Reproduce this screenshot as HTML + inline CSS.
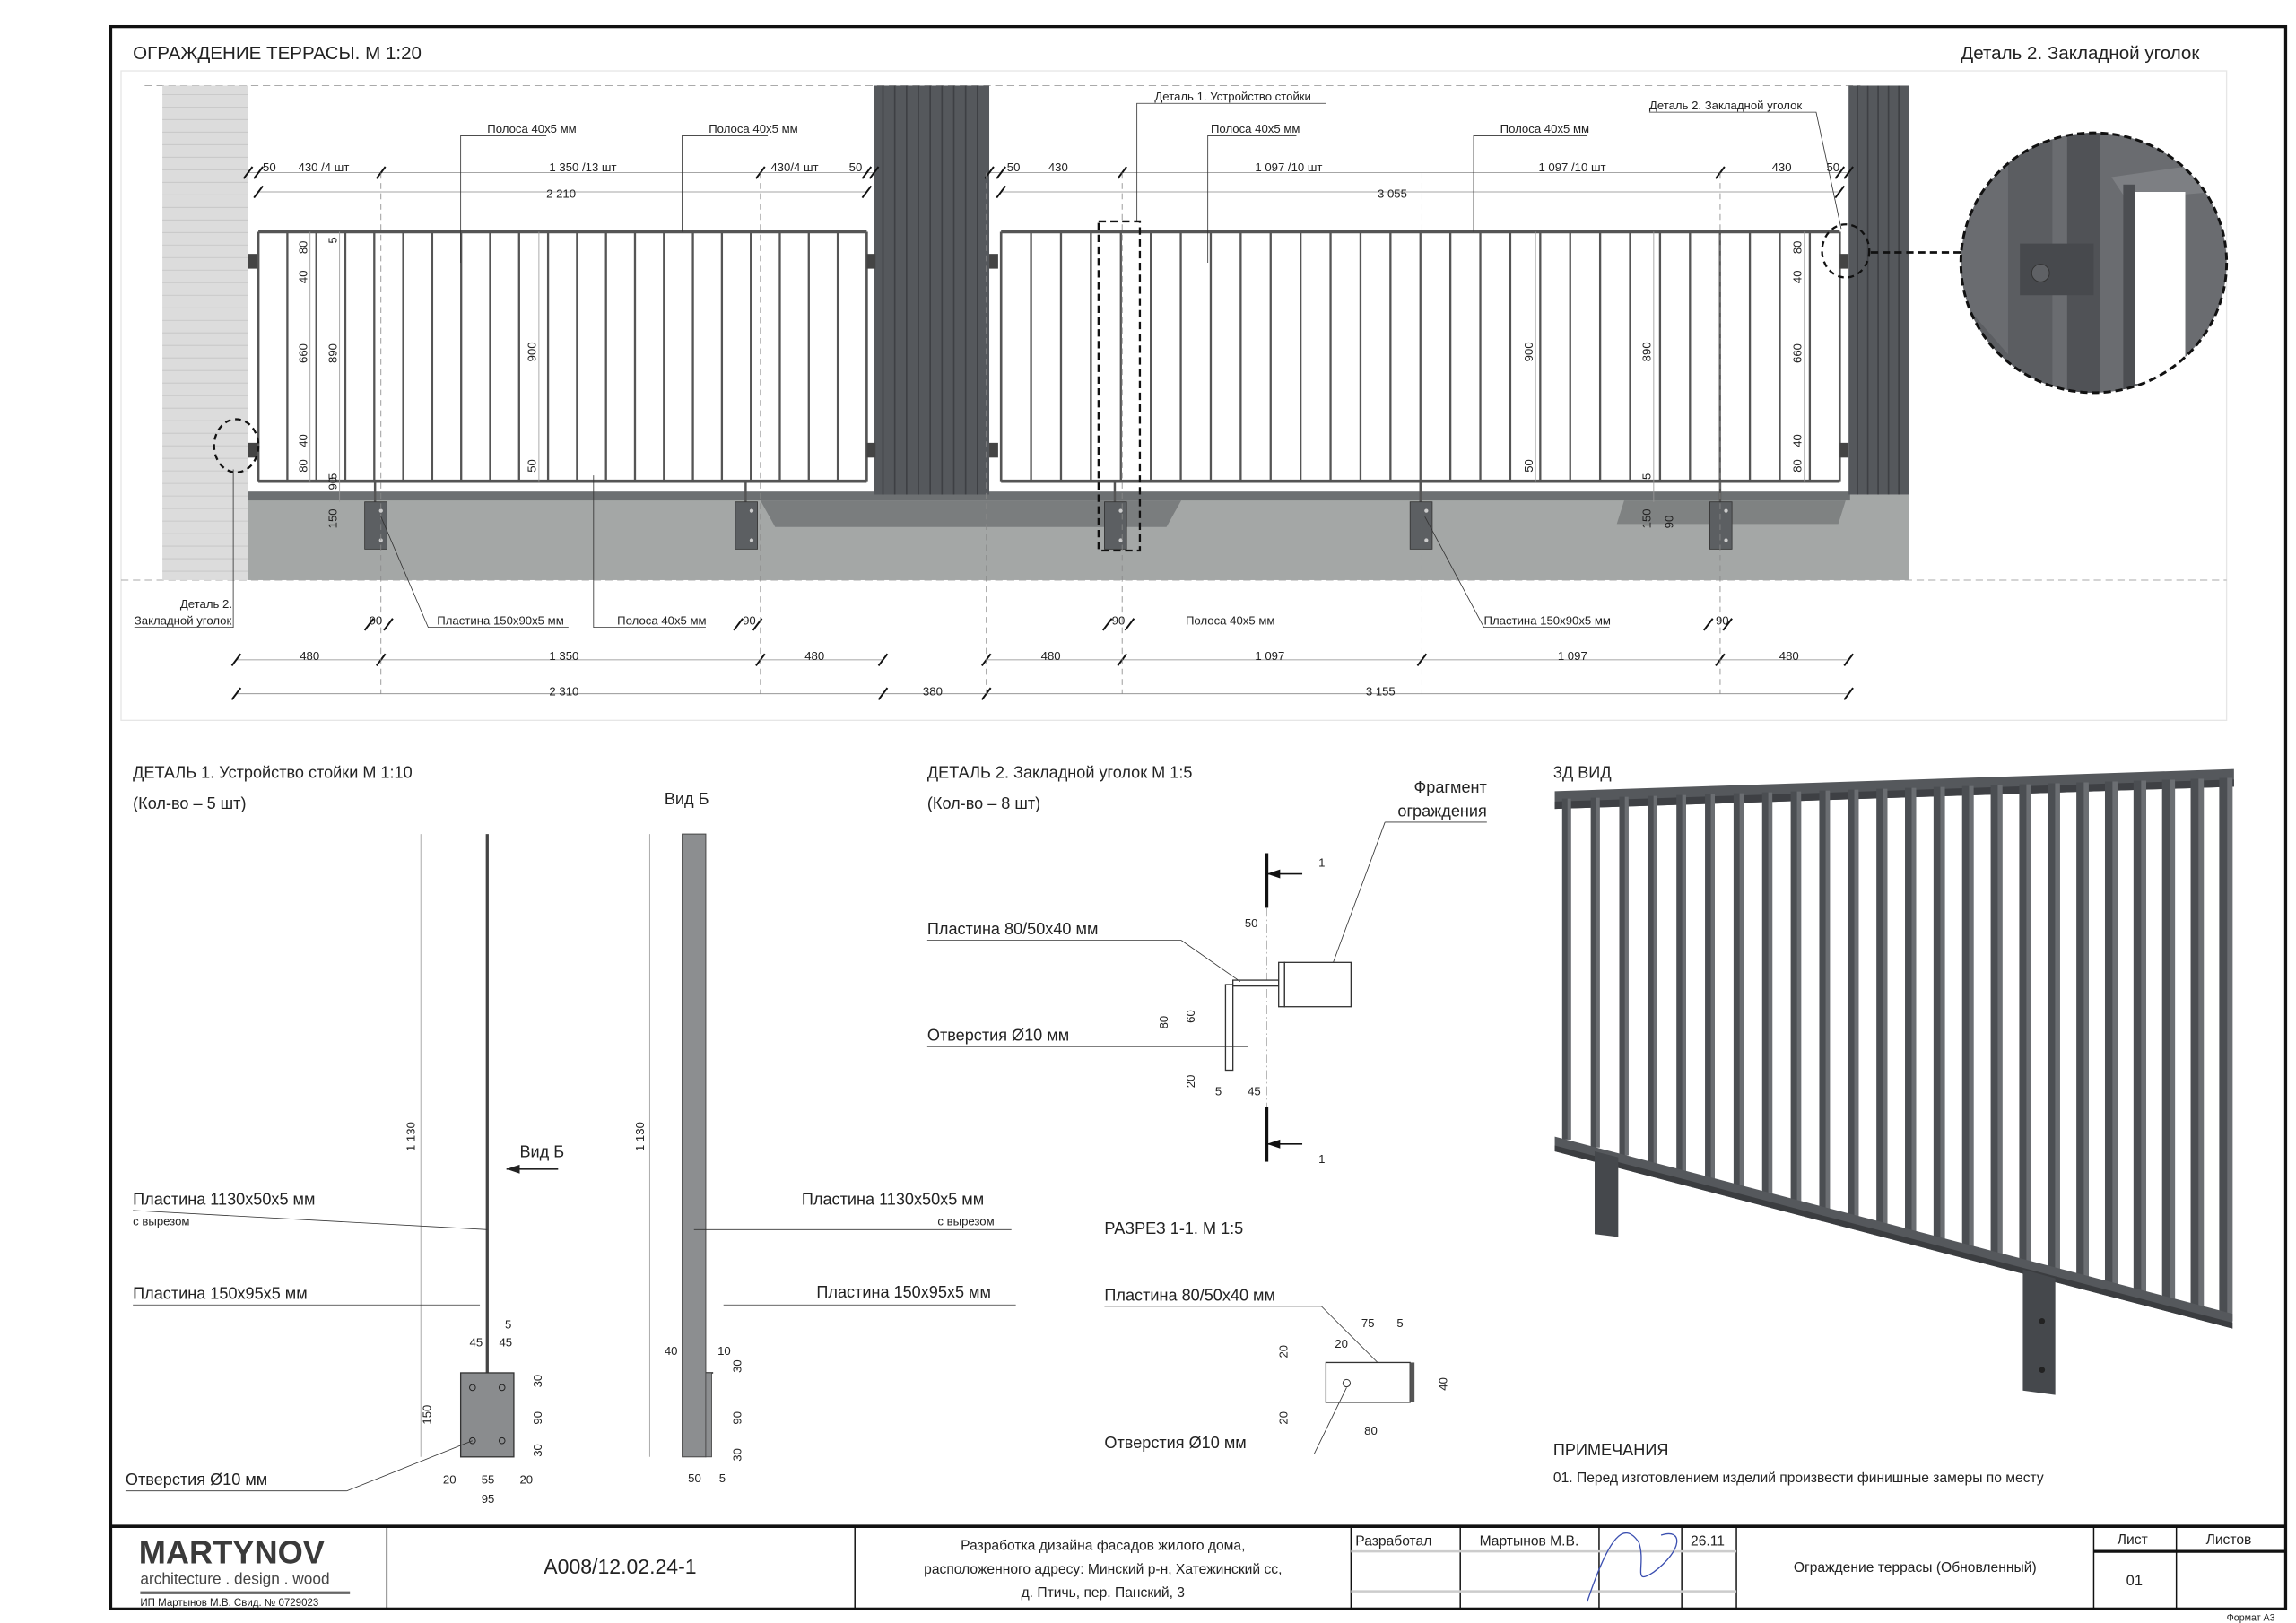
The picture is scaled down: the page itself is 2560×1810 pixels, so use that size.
<!DOCTYPE html>
<html><head><meta charset="utf-8">
<style>
html,body{margin:0;padding:0;background:#fff;}
svg{display:block;}
text{font-family:"Liberation Sans Narrow","Liberation Sans",sans-serif;fill:#222;}
.t{font-size:8px;}
.m{font-size:11px;}
.h{font-size:12.5px;}
</style></head>
<body>
<svg id="s" width="2560" height="1810" viewBox="0 0 1555 1099.5" preserveAspectRatio="none" xmlns="http://www.w3.org/2000/svg">
<rect width="1555" height="1100" fill="#fff"/>
<!-- frame -->
<rect x="75" y="18" width="1473" height="1072" fill="none" stroke="#111" stroke-width="2"/>
<rect x="82" y="48" width="1426" height="440" fill="none" stroke="#e6e6e6" stroke-width="0.8"/>
<text x="90" y="40" class="h">ОГРАЖДЕНИЕ ТЕРРАСЫ. М 1:20</text>
<text x="1328" y="40" class="h">Деталь 2. Закладной уголок</text>
<line x1="98" y1="58" x2="1260" y2="58" stroke="#aaa" stroke-width="0.6" stroke-dasharray="5,3"/>
<line x1="82" y1="393" x2="1508" y2="393" stroke="#aaa" stroke-width="0.6" stroke-dasharray="5,3"/>
<!-- left wall -->
<rect x="110" y="58" width="58" height="335" fill="#dcdcdc"/>
<g id="wallLines"></g>
<!-- slab -->
<rect x="168" y="335" width="1125" height="58" fill="#a4a7a6"/>
<rect x="168" y="333" width="1085" height="6" fill="#6d7072"/>
<polygon points="515,339 800,339 790,357 525,357" fill="#7a7d7e"/>
<polygon points="1100,339 1250,339 1245,355 1095,355" fill="#7f8282"/>
<!-- columns -->
<rect x="592" y="58" width="78" height="277" fill="#55585c"/>
<g id="colStripes"></g>
<rect x="1252" y="58" width="41" height="277" fill="#55585c"/>
<g id="col2Stripes"></g>
<!-- fences -->
<g id="fences" stroke="#555" fill="none"></g>
<!-- posts plates -->
<g id="posts"></g>
<!-- detail circles -->
<ellipse cx="160" cy="302" rx="15" ry="18" fill="none" stroke="#111" stroke-width="1.4" stroke-dasharray="4,3"/>
<ellipse cx="1250" cy="170" rx="16" ry="18" fill="none" stroke="#111" stroke-width="1.4" stroke-dasharray="4,3"/>
<line x1="1267" y1="171" x2="1330" y2="171" stroke="#111" stroke-width="1.6" stroke-dasharray="5,3"/>
<clipPath id="cc"><ellipse cx="1418" cy="178" rx="90" ry="88"/></clipPath>
<g clip-path="url(#cc)">
<rect x="1325" y="88" width="190" height="180" fill="#6a6c70"/>
<rect x="1360" y="88" width="30" height="180" fill="#5b5d61"/>
<rect x="1400" y="88" width="22" height="180" fill="#505256"/>
<polygon points="1430,120 1500,110 1500,130 1440,135" fill="#7d7f83"/>
<rect x="1445" y="130" width="35" height="130" fill="#fff"/>
<rect x="1438" y="125" width="8" height="140" fill="#4c4e52"/>
<rect x="1368" y="165" width="50" height="35" fill="#47494d"/>
<circle cx="1382" cy="185" r="6" fill="#5f6165" stroke="#333" stroke-width="0.6"/>
<polygon points="1325,200 1360,240 1360,268 1325,268" fill="#5c5e62"/>
</g>
<ellipse cx="1418" cy="178" rx="90" ry="88" fill="none" stroke="#111" stroke-width="1.8" stroke-dasharray="5,3"/>
<!-- dashed detail box -->
<rect x="744" y="150" width="28" height="223" fill="none" stroke="#111" stroke-width="1.4" stroke-dasharray="5,3"/>
<!-- dimension lines -->
<g id="dims" stroke="#888" stroke-width="0.5"></g>
<g class="t">
<text x="178" y="116">50</text><text x="202" y="116">430 /4 шт</text><text x="372" y="116">1 350 /13 шт</text><text x="522" y="116">430/4 шт</text><text x="575" y="116">50</text>
<text x="370" y="134">2 210</text>
<text x="682" y="116">50</text><text x="710" y="116">430</text><text x="850" y="116">1 097 /10 шт</text><text x="1042" y="116">1 097 /10 шт</text><text x="1200" y="116">430</text><text x="1237" y="116">50</text>
<text x="933" y="134">3 055</text>
<text x="330" y="90">Полоса 40х5 мм</text><text x="480" y="90">Полоса 40х5 мм</text>
<text x="782" y="68">Деталь 1. Устройство стойки</text><text x="820" y="90">Полоса 40х5 мм</text><text x="1016" y="90">Полоса 40х5 мм</text>
<text x="1117" y="74">Деталь 2. Закладной уголок</text>
<text x="122" y="412">Деталь 2.</text><text x="91" y="423">Закладной уголок</text>
<text x="250" y="423">90</text><text x="296" y="423">Пластина 150х90х5 мм</text><text x="418" y="423">Полоса 40х5 мм</text><text x="503" y="423">90</text>
<text x="753" y="423">90</text><text x="803" y="423">Полоса 40х5 мм</text><text x="1005" y="423">Пластина 150х90х5 мм</text><text x="1162" y="423">90</text>
<text x="203" y="447">480</text><text x="372" y="447">1 350</text><text x="545" y="447">480</text><text x="705" y="447">480</text><text x="850" y="447">1 097</text><text x="1055" y="447">1 097</text><text x="1205" y="447">480</text>
<text x="372" y="471">2 310</text><text x="625" y="471">380</text><text x="925" y="471">3 155</text>
</g>
<g id="vtexts" class="t"></g>
<!-- ============ DETAIL 1 ============ -->
<text x="90" y="527" class="m">ДЕТАЛЬ 1. Устройство стойки М 1:10</text>
<text x="90" y="548" class="m">(Кол-во – 5 шт)</text>
<line x1="330" y1="565" x2="330" y2="930" stroke="#444" stroke-width="2"/>
<rect x="312" y="930" width="36" height="57" fill="#8a8c8e" stroke="#333" stroke-width="0.8"/>
<circle cx="320" cy="940" r="2" fill="none" stroke="#222" stroke-width="0.6"/><circle cx="340" cy="940" r="2" fill="none" stroke="#222" stroke-width="0.6"/>
<circle cx="320" cy="976" r="2" fill="none" stroke="#222" stroke-width="0.6"/><circle cx="340" cy="976" r="2" fill="none" stroke="#222" stroke-width="0.6"/>
<line x1="285" y1="565" x2="285" y2="987" stroke="#999" stroke-width="0.5"/>
<text transform="translate(281,780) rotate(-90)" class="t">1 130</text>
<text x="352" y="784" class="m">Вид Б</text>
<line x1="343" y1="792" x2="378" y2="792" stroke="#222" stroke-width="1"/><polygon points="343,792 352,789 352,795" fill="#222"/>
<text x="90" y="816" class="m">Пластина 1130х50х5 мм</text><line x1="90" y1="820" x2="330" y2="833" stroke="#333" stroke-width="0.5"/>
<text x="90" y="830" class="t">с вырезом</text>
<text x="90" y="880" class="m">Пластина 150х95х5 мм</text><line x1="90" y1="884" x2="325" y2="884" stroke="#333" stroke-width="0.5"/>
<text x="85" y="1006" class="m">Отверстия Ø10 мм</text><line x1="85" y1="1010" x2="235" y2="1010" stroke="#333" stroke-width="0.5"/><line x1="235" y1="1010" x2="320" y2="976" stroke="#333" stroke-width="0.5"/>
<g class="t"><text x="318" y="912">45</text><text x="338" y="912">45</text><text x="342" y="900">5</text><text x="300" y="1005">20</text><text x="326" y="1005">55</text><text x="352" y="1005">20</text><text x="326" y="1018">95</text>
<text transform="translate(292,965) rotate(-90)">150</text><text transform="translate(367,940) rotate(-90)">30</text><text transform="translate(367,965) rotate(-90)">90</text><text transform="translate(367,987) rotate(-90)">30</text></g>
<!-- Vid B -->
<text x="450" y="545" class="m">Вид Б</text>
<rect x="462" y="565" width="16" height="422" fill="#8c8e90" stroke="#444" stroke-width="0.6"/>
<line x1="478" y1="930" x2="483" y2="930" stroke="#333"/><rect x="478" y="930" width="4" height="57" fill="#8c8e90" stroke="#444" stroke-width="0.5"/>
<line x1="440" y1="565" x2="440" y2="987" stroke="#999" stroke-width="0.5"/>
<text transform="translate(436,780) rotate(-90)" class="t">1 130</text>
<text x="543" y="816" class="m">Пластина 1130х50х5 мм</text><line x1="470" y1="833" x2="685" y2="833" stroke="#333" stroke-width="0.5"/>
<text x="635" y="830" class="t">с вырезом</text>
<text x="553" y="879" class="m">Пластина 150х95х5 мм</text><line x1="490" y1="884" x2="688" y2="884" stroke="#333" stroke-width="0.5"/>
<g class="t"><text x="450" y="918">40</text><text x="486" y="918">10</text><text x="466" y="1004">50</text><text x="487" y="1004">5</text>
<text transform="translate(502,930) rotate(-90)">30</text><text transform="translate(502,965) rotate(-90)">90</text><text transform="translate(502,990) rotate(-90)">30</text></g>
<!-- ============ DETAIL 2 ============ -->
<text x="628" y="527" class="m">ДЕТАЛЬ 2. Закладной уголок М 1:5</text>
<text x="628" y="548" class="m">(Кол-во – 8 шт)</text>
<text x="1007" y="537" class="m" text-anchor="end">Фрагмент</text>
<text x="1007" y="553" class="m" text-anchor="end">ограждения</text>
<line x1="938" y1="557" x2="1007" y2="557" stroke="#333" stroke-width="0.5"/><line x1="938" y1="557" x2="900" y2="660" stroke="#333" stroke-width="0.5"/>
<line x1="858" y1="578" x2="858" y2="615" stroke="#111" stroke-width="2"/><line x1="858" y1="750" x2="858" y2="787" stroke="#111" stroke-width="2"/>
<line x1="858" y1="592" x2="882" y2="592" stroke="#111"/><polygon points="858,592 867,589 867,595" fill="#111"/><text x="893" y="587" class="t">1</text>
<line x1="858" y1="775" x2="882" y2="775" stroke="#111"/><polygon points="858,775 867,772 867,778" fill="#111"/><text x="893" y="788" class="t">1</text>
<line x1="858" y1="615" x2="858" y2="750" stroke="#aaa" stroke-width="0.5" stroke-dasharray="6,2,1,2"/>
<rect x="830" y="667" width="5" height="58" fill="#fff" stroke="#333" stroke-width="0.8"/>
<rect x="835" y="664" width="31" height="4" fill="#fff" stroke="#333" stroke-width="0.8"/>
<rect x="866" y="652" width="4" height="30" fill="#fff" stroke="#333" stroke-width="0.8"/>
<rect x="870" y="652" width="45" height="30" fill="#fff" stroke="#333" stroke-width="0.8"/>
<text x="628" y="633" class="m">Пластина 80/50х40 мм</text><line x1="628" y1="637" x2="800" y2="637" stroke="#333" stroke-width="0.5"/><line x1="800" y1="637" x2="840" y2="665" stroke="#333" stroke-width="0.5"/>
<text x="628" y="705" class="m">Отверстия Ø10 мм</text><line x1="628" y1="709" x2="845" y2="709" stroke="#333" stroke-width="0.5"/>
<g class="t"><text x="843" y="628">50</text><text x="823" y="742">5</text><text x="845" y="742">45</text>
<text transform="translate(791,697) rotate(-90)">80</text><text transform="translate(809,693) rotate(-90)">60</text><text transform="translate(809,737) rotate(-90)">20</text></g>
<text x="748" y="836" class="m">РАЗРЕЗ 1-1. М 1:5</text>
<text x="748" y="881" class="m">Пластина 80/50х40 мм</text><line x1="748" y1="885" x2="895" y2="885" stroke="#333" stroke-width="0.5"/><line x1="895" y1="885" x2="935" y2="925" stroke="#333" stroke-width="0.5"/>
<rect x="898" y="923" width="57" height="27" fill="#fff" stroke="#333" stroke-width="0.8"/>
<rect x="955" y="923" width="3" height="27" fill="#555"/>
<circle cx="912" cy="937" r="2.5" fill="none" stroke="#333" stroke-width="0.6"/>
<text x="748" y="981" class="m">Отверстия Ø10 мм</text><line x1="748" y1="985" x2="890" y2="985" stroke="#333" stroke-width="0.5"/><line x1="890" y1="985" x2="912" y2="940" stroke="#333" stroke-width="0.5"/>
<g class="t"><text x="922" y="899">75</text><text x="946" y="899">5</text><text x="904" y="913">20</text><text x="924" y="972">80</text>
<text transform="translate(872,920) rotate(-90)">20</text><text transform="translate(872,965) rotate(-90)">20</text><text transform="translate(980,942) rotate(-90)">40</text></g>
<!-- ============ 3D ============ -->
<text x="1052" y="527" class="m">3Д ВИД</text>
<g id="td"></g>
<text x="1052" y="986" class="m">ПРИМЕЧАНИЯ</text>
<text x="1052" y="1004" class="t" style="font-size:9.5px">01. Перед изготовлением изделий произвести финишные замеры по месту</text>
<!-- ============ TITLE BLOCK ============ -->
<line x1="75" y1="1034" x2="1548" y2="1034" stroke="#111" stroke-width="2.2"/>
<g stroke="#111" stroke-width="0.9">
<line x1="262" y1="1034" x2="262" y2="1090"/><line x1="579" y1="1034" x2="579" y2="1090"/><line x1="915" y1="1034" x2="915" y2="1090"/>
<line x1="989" y1="1034" x2="989" y2="1090"/><line x1="1083" y1="1034" x2="1083" y2="1090"/><line x1="1139" y1="1034" x2="1139" y2="1090"/>
<line x1="1176" y1="1034" x2="1176" y2="1090"/><line x1="1418" y1="1034" x2="1418" y2="1090"/><line x1="1474" y1="1034" x2="1474" y2="1090"/>
</g>
<line x1="915" y1="1051" x2="1176" y2="1051" stroke="#ccc" stroke-width="1.5"/><line x1="915" y1="1078" x2="1176" y2="1078" stroke="#ccc" stroke-width="1.5"/>
<line x1="1418" y1="1051" x2="1548" y2="1051" stroke="#111" stroke-width="2"/>
<text x="94" y="1059" style="font-size:22px;font-weight:bold;fill:#3a3a3a">MARTYNOV</text>
<text x="95" y="1073" style="font-size:10.5px;fill:#444">architecture . design . wood</text>
<line x1="95" y1="1079" x2="237" y2="1079" stroke="#666" stroke-width="2"/>
<text x="95" y="1088" style="font-size:7px;">ИП Мартынов М.В. Свид. № 0729023</text>
<text x="420" y="1066" text-anchor="middle" style="font-size:14px">А008/12.02.24-1</text>
<text x="747" y="1050" text-anchor="middle" style="font-size:9.5px">Разработка дизайна фасадов жилого дома,</text>
<text x="747" y="1066" text-anchor="middle" style="font-size:9.5px">расположенного адресу: Минский р-н, Хатежинский сс,</text>
<text x="747" y="1082" text-anchor="middle" style="font-size:9.5px">д. Птичь, пер. Панский, 3</text>
<text x="918" y="1047" style="font-size:9.5px">Разработал</text>
<text x="1002" y="1047" style="font-size:9.5px">Мартынов М.В.</text>
<path d="M1075,1085 C1090,1040 1100,1030 1110,1045 C1115,1060 1105,1075 1120,1065 C1140,1050 1140,1035 1125,1040" fill="none" stroke="#3b4fb0" stroke-width="0.8"/>
<text x="1145" y="1047" style="font-size:9.5px">26.11</text>
<text x="1297" y="1065" text-anchor="middle" style="font-size:9.5px">Ограждение террасы (Обновленный)</text>
<text x="1434" y="1046" style="font-size:9.5px">Лист</text><text x="1494" y="1046" style="font-size:9.5px">Листов</text>
<text x="1440" y="1074" style="font-size:10px">01</text>
<text x="1508" y="1098" style="font-size:6.5px">Формат А3</text>
</svg>
<script>
const NS="http://www.w3.org/2000/svg";
function el(p,t,a){const e=document.createElementNS(NS,t);for(const k in a)e.setAttribute(k,a[k]);document.getElementById(p).appendChild(e);return e;}
for(let y=64;y<393;y+=8.5)el("wallLines","line",{x1:110,x2:168,y1:y,y2:y,stroke:"#c4c4c4","stroke-width":0.5});
for(let x=598;x<668;x+=8)el("colStripes","line",{x1:x,x2:x,y1:58,y2:335,stroke:"#3e4044","stroke-width":1});
for(let x=1258;x<1292;x+=7)el("col2Stripes","line",{x1:x,x2:x,y1:58,y2:335,stroke:"#3e4044","stroke-width":1});
function fence(x1,x2){
 el("fences","rect",{x:x1,y:157,width:x2-x1,height:170,fill:"#fff",stroke:"none"});
 el("fences","line",{x1:x1,x2:x2,y1:157,y2:157,"stroke-width":2.2});
 el("fences","line",{x1:x1,x2:x2,y1:326,y2:326,"stroke-width":2.2});
 el("fences","line",{x1:x1,x2:x1,y1:157,y2:326,"stroke-width":1.6});
 el("fences","line",{x1:x2,x2:x2,y1:157,y2:326,"stroke-width":1.6});
 const n=Math.round((x2-x1)/20);const st=(x2-x1)/n;
 for(let i=1;i<n;i++){const x=x1+i*st;el("fences","line",{x1:x,x2:x,y1:157,y2:326,"stroke-width":1.4});}
}
fence(175,587);fence(678,1246);
[[168,177],[168,305],[587,177],[587,305],[670,177],[670,305],[1246,177],[1246,305]].forEach(p=>el("posts","rect",{x:p[0],y:p[1]-5,width:6,height:10,fill:"#444"}));
[247,498,748,955,1158].forEach(x=>{el("posts","line",{x1:x+7,x2:x+7,y1:326,y2:340,stroke:"#555","stroke-width":1.5});
 el("posts","rect",{x:x,y:340,width:15,height:32,fill:"#5c5f62",stroke:"#333","stroke-width":0.5});
 el("posts","circle",{cx:x+11,cy:346,r:1.3,fill:"#ccc"});el("posts","circle",{cx:x+11,cy:366,r:1.3,fill:"#ccc"});});
// dims
const D=[[168,117,592],[175,130,587],[670,117,1252],[678,130,1246],[160,447,598],[668,447,1252],[160,470,598],[598,470,668],[668,470,1252]];
D.forEach(d=>{el("dims","line",{x1:d[0],x2:d[2],y1:d[1],y2:d[1]});});
const ticks=[[168,117],[175,117],[258,117],[515,117],[587,117],[592,117],[175,130],[587,130],[670,117],[678,117],[760,117],[1165,117],[1246,117],[1252,117],[678,130],[1246,130],
[160,447],[258,447],[515,447],[598,447],[668,447],[760,447],[963,447],[1165,447],[1252,447],[160,470],[598,470],[668,470],[1252,470],[250,423],[263,423],[500,423],[513,423],[750,423],[765,423],[1157,423],[1170,423]];
ticks.forEach(t=>el("dims","line",{x1:t[0]-3,x2:t[0]+3,y1:t[1]+4,y2:t[1]-4,stroke:"#111","stroke-width":1.2}));
[258,515,598,668,760,963,1165].forEach(x=>el("dims","line",{x1:x,x2:x,y1:117,y2:470,"stroke-dasharray":"4,3"}));
// vertical labels
function vt(x,y,s){const e=el("vtexts","text",{transform:`translate(${x},${y}) rotate(-90)`});e.textContent=s;}
vt(208,172,"80");vt(208,192,"40");vt(208,246,"660");vt(208,303,"40");vt(208,320,"80");vt(228,246,"890");vt(228,165,"5");vt(228,325,"5");vt(228,358,"150");vt(228,332,"90");vt(363,245,"900");vt(363,320,"50");
vt(1038,245,"900");vt(1118,245,"890");vt(1118,325,"5");vt(1118,358,"150");vt(1133,358,"90");vt(1220,172,"80");vt(1220,192,"40");vt(1220,246,"660");vt(1220,303,"40");vt(1220,320,"80");vt(1038,320,"50");
[[210,157,210,326],[230,157,230,340],[365,157,365,326],[1040,157,1040,326],[1120,157,1120,340],[1222,157,1222,326]].forEach(l=>el("vtexts","line",{x1:l[0],x2:l[2],y1:l[1],y2:l[3],stroke:"#999","stroke-width":0.5}));
// leaders
[[312,178,312,92,370,92],[462,157,462,92,520,92],[818,178,818,92,878,92],[998,157,998,92,1075,92],[770,150,770,70,898,70],[402,322,402,425,478,425]].forEach(l=>el("vtexts","polyline",{points:`${l[0]},${l[1]} ${l[2]},${l[3]} ${l[4]},${l[5]}`,fill:"none",stroke:"#333","stroke-width":0.5}));
el("vtexts","polyline",{points:"1247,155 1230,76 1117,76",fill:"none",stroke:"#333","stroke-width":0.5});
el("vtexts","polyline",{points:"258,350 290,425 385,425",fill:"none",stroke:"#333","stroke-width":0.5});
el("vtexts","polyline",{points:"965,350 1005,425 1090,425",fill:"none",stroke:"#333","stroke-width":0.5});
el("vtexts","polyline",{points:"158,318 158,425 91,425",fill:"none",stroke:"#333","stroke-width":0.5});
// 3D fence
const topL=[1055,541],topR=[1512,527],botL=[1058,772],botR=[1510,895];
el("td","polygon",{points:"1053,536 1513,521 1513,533 1053,548",fill:"#55585c"});
el("td","polygon",{points:"1053,543 1513,528 1513,533 1053,548",fill:"#3e4044"});
const N=24;
for(let i=0;i<N;i++){const f=i/(N-1);const x=1058+f*445;const yt=541-f*14;const yb=772+f*123;const w=6+f*3;
 el("td","polygon",{points:`${x},${yt} ${x+w},${yt} ${x+w},${yb} ${x},${yb}`,fill:"#4b4e52"});
 el("td","polygon",{points:`${x+w*0.6},${yt} ${x+w},${yt} ${x+w},${yb} ${x+w*0.6},${yb}`,fill:"#6b6e72"});}
el("td","polygon",{points:"1053,770 1512,890 1512,900 1053,780",fill:"#55585c"});
el("td","polygon",{points:"1053,776 1512,896 1512,900 1053,780",fill:"#3b3d40"});
el("td","polygon",{points:"1080,780 1096,784 1096,838 1080,836",fill:"#45484c"});
el("td","polygon",{points:"1370,860 1392,866 1392,945 1370,942",fill:"#45484c"});
el("td","circle",{cx:1383,cy:895,r:2,fill:"#222"});el("td","circle",{cx:1383,cy:928,r:2,fill:"#222"});
</script>
</body></html>
